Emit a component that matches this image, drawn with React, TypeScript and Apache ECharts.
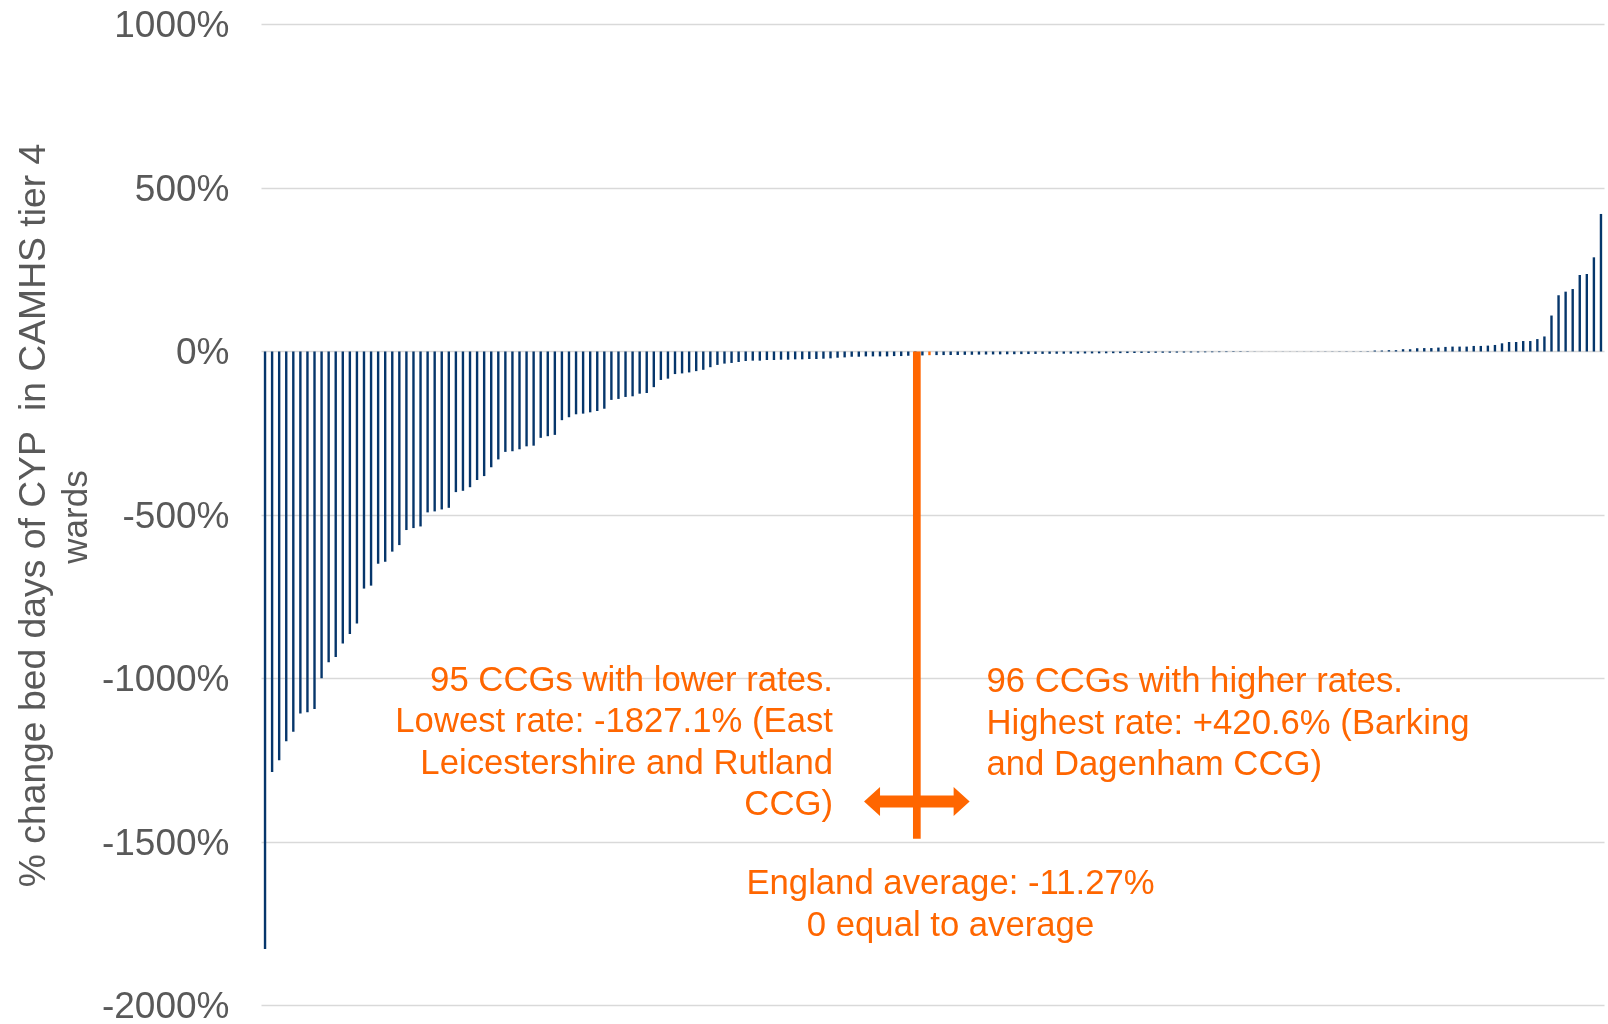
import React, { useEffect, useRef } from "react";
import * as echarts from "echarts";

// Sorted % change in bed days per CCG
const values: number[] = [
  -1827.1, -1286, -1250, -1192, -1163, -1107, -1103, -1093, -999, -950,
  -934, -893, -864, -832, -725, -716, -649, -643, -612, -592,
  -546, -540, -535, -492, -489, -483, -478, -430, -426, -415,
  -393, -381, -354, -330, -307, -305, -299, -290, -288, -264,
  -259, -255, -210, -201, -192, -190, -186, -182, -175, -148,
  -145, -139, -137, -129, -127, -109, -87, -83, -69, -67,
  -64, -60, -56, -48, -41, -37, -35, -32, -29, -28,
  -28, -26, -26, -25, -25, -24, -24, -23, -23, -22,
  -21, -19, -18, -16, -16, -15, -15, -15, -15, -14,
  -14, -13, -13, -12, -11.27, -11, -10.9, -10.8, -10.6, -10.2,
  -10, -9.5, -9.2, -9, -8.8, -8.5, -8.3, -8, -7.8, -7.5,
  -7.3, -7, -6.9, -6.7, -6.5, -6.3, -6, -5.8, -5.6, -5.4,
  -5.2, -5, -4.8, -4.6, -4.4, -4.2, -4, -3.8, -3.6, -3.4,
  -3.2, -3, -2.8, -2.5, -2.3, -2, -1.8, -1.5, -1.3, -1,
  -0.5, -0.3, 0.2, 0.3, 0.4, 0.3, 0.4, 0.4, 0.5, 0.5,
  0.6, 0.6, 0.7, 0.8, 0.8, 0.9, 1, 3, 3, 4,
  4, 7, 7, 10, 10.5, 10.5, 12, 14, 15, 15,
  15, 17, 17, 18, 20, 25, 29, 29, 32, 32,
  38, 46, 110, 172, 183, 191, 234, 237, 288, 420.6,
];
const categories: string[] = values.map((_, i) => `CCG ${i + 1}`);
const averageIndex = 94;
const averageValue = -11.27;
const markerIndex = 92;
const markerBottom = -1490;
const arrowLevel = -1376;

const yMin = -2000;
const yMax = 1000;
const yInterval = 500;

const yAxisTitle = ["% change bed days of CYP  in CAMHS tier 4", "wards"];
const lowerText = [
  "95 CCGs with lower rates.",
  "Lowest rate: -1827.1% (East",
  "Leicestershire and Rutland",
  "CCG)",
];
const higherText = [
  "96 CCGs with higher rates.",
  "Highest rate: +420.6% (Barking",
  "and Dagenham CCG)",
];
const averageText = ["England average: -11.27%", "0 equal to average"];

const NAVY = "#06366B";
const ORANGE = "#FF6600";
const GREY = "#595959";
const FONT = "'Liberation Sans', Arial, sans-serif";

export default function App() {
  const ref = useRef<HTMLDivElement>(null);

  useEffect(() => {
    if (!ref.current) return;
    const chart = echarts.init(ref.current, null, { renderer: "svg" });
    const data = values.map((v, i) =>
      i === averageIndex
        ? { value: averageValue, itemStyle: { color: ORANGE } }
        : v
    );
    chart.setOption({
      animation: false,
      grid: { left: 261.5, right: 3.5, top: 24.5, bottom: 17.3 },
      xAxis: {
        type: "category",
        data: categories,
        axisLine: { show: false },
        axisTick: { show: false },
        axisLabel: { show: false },
        splitLine: { show: false },
      },
      yAxis: {
        type: "value",
        min: yMin,
        max: yMax,
        interval: yInterval,
        axisLine: { show: false },
        axisTick: { show: false },
        axisLabel: {
          formatter: (v: number) => `${v}%`,
          fontSize: 37,
          color: GREY,
          fontFamily: FONT,
          margin: 32,
        },
        splitLine: { lineStyle: { color: "#D9D9D9", width: 1.4 } },
      },
      series: [
        {
          type: "bar",
          data,
          barWidth: 2.4,
          itemStyle: { color: NAVY },
        },
      ],
    });

    const finder = { seriesIndex: 0 };
    const p0 = chart.convertToPixel(finder, [markerIndex, 0]) as number[];
    const p1 = chart.convertToPixel(finder, [markerIndex, markerBottom]) as number[];
    const pA = chart.convertToPixel(finder, [markerIndex, arrowLevel]) as number[];
    const pN = chart.convertToPixel(finder, [markerIndex + 1, 0]) as number[];
    const band = pN[0] - p0[0];
    const cx = p0[0] + 1.5;
    const cy = pA[1];
    const half = 7.47 * band;
    const head = 16;
    const headH = 14.5;
    const shaftH = 6;
    const arrowPts = [
      [cx - half, cy],
      [cx - half + head, cy - headH],
      [cx - half + head, cy - shaftH],
      [cx + half - head, cy - shaftH],
      [cx + half - head, cy - headH],
      [cx + half, cy],
      [cx + half - head, cy + headH],
      [cx + half - head, cy + shaftH],
      [cx - half + head, cy + shaftH],
      [cx - half + head, cy + headH],
    ];

    const textStyle = (text: string, align: string) => ({
      text,
      fill: ORANGE,
      fontSize: 34.7,
      fontFamily: FONT,
      align,
      verticalAlign: "middle",
      lineHeight: 41.5,
    });

    chart.setOption({
      graphic: [
        {
          type: "rect",
          shape: { x: cx - 3.85, y: p0[1], width: 7.7, height: p1[1] - p0[1] },
          style: { fill: ORANGE },
          z: 10,
        },
        {
          type: "polygon",
          shape: { points: arrowPts },
          style: { fill: ORANGE },
          z: 10,
        },
        {
          type: "text",
          x: 833,
          y: 741,
          style: textStyle(lowerText.join("\n"), "right"),
          z: 10,
        },
        {
          type: "text",
          x: 986.5,
          y: 721.5,
          style: textStyle(higherText.join("\n"), "left"),
          z: 10,
        },
        {
          type: "text",
          x: 950.5,
          y: 903,
          style: textStyle(averageText.join("\n"), "center"),
          z: 10,
        },
        {
          type: "text",
          x: 31.5,
          y: 515.5,
          rotation: Math.PI / 2,
          style: {
            text: yAxisTitle[0],
            fill: GREY,
            fontSize: 37.3,
            fontFamily: FONT,
            align: "center",
            verticalAlign: "middle",
          },
        },
        {
          type: "text",
          x: 74,
          y: 517,
          rotation: Math.PI / 2,
          style: {
            text: yAxisTitle[1],
            fill: GREY,
            fontSize: 35,
            fontFamily: FONT,
            align: "center",
            verticalAlign: "middle",
          },
        },
      ],
    });

    return () => chart.dispose();
  }, []);

  return (
    <div
      ref={ref}
      style={{ position: "fixed", left: 0, top: 0, width: 1608, height: 1024 }}
    />
  );
}
